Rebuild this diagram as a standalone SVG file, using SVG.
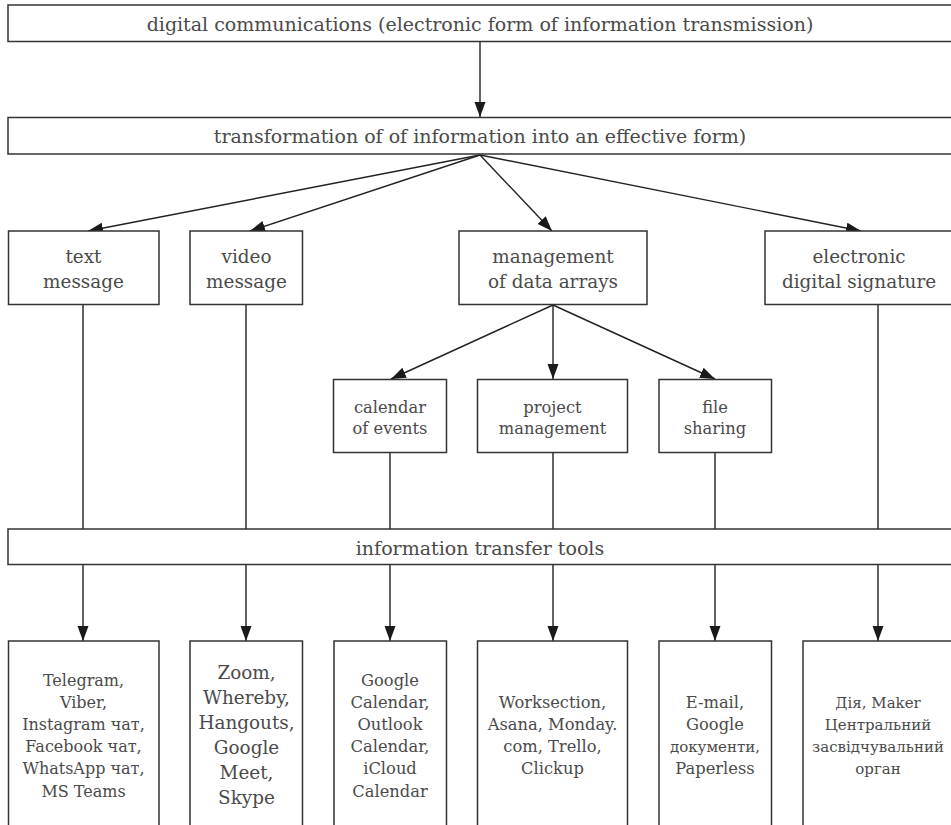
<svg xmlns="http://www.w3.org/2000/svg" width="951" height="825" viewBox="0 0 951 825">
<defs>
<marker id="ah" markerUnits="userSpaceOnUse" markerWidth="16" markerHeight="12" refX="15" refY="5.5" orient="auto">
<path d="M0,0 L15,5.5 L0,11 z" fill="#1a1a1a"/>
</marker>
<style>
.b{fill:#fff;stroke:#333;stroke-width:1.5}
.t{font-family:"DejaVu Serif","Liberation Serif",serif;fill:#4a4a4a;text-anchor:middle}
.h{font-size:19px}
.l{font-size:18.4px}
.s{font-size:16.3px}
.m{font-size:16px}
.k{font-size:15px}
.c{stroke:#222;stroke-width:1.4;fill:none}
.a{marker-end:url(#ah)}
</style>
</defs>
<rect width="951" height="825" fill="#fff"/>
<g id="connectors">
<line class="c a" x1="480" y1="42" x2="480" y2="117"/>
<line class="c a" x1="480" y1="155" x2="88" y2="231"/>
<line class="c a" x1="480" y1="155" x2="250" y2="231"/>
<line class="c a" x1="480" y1="155" x2="552" y2="231"/>
<line class="c a" x1="480" y1="155" x2="861" y2="231"/>
<line class="c a" x1="553" y1="305" x2="391" y2="379"/>
<line class="c a" x1="553" y1="305" x2="553" y2="379"/>
<line class="c a" x1="553" y1="305" x2="715" y2="379"/>
<line class="c" x1="83" y1="305" x2="83" y2="529"/>
<line class="c" x1="246" y1="305" x2="246" y2="529"/>
<line class="c" x1="390" y1="453" x2="390" y2="529"/>
<line class="c" x1="553" y1="453" x2="553" y2="529"/>
<line class="c" x1="715" y1="453" x2="715" y2="529"/>
<line class="c" x1="878" y1="305" x2="878" y2="529"/>
<line class="c a" x1="83" y1="565" x2="83" y2="641"/>
<line class="c a" x1="246" y1="565" x2="246" y2="641"/>
<line class="c a" x1="390" y1="565" x2="390" y2="641"/>
<line class="c a" x1="553" y1="565" x2="553" y2="641"/>
<line class="c a" x1="715" y1="565" x2="715" y2="641"/>
<line class="c a" x1="878" y1="565" x2="878" y2="641"/>
</g>
<g id="n-digital">
<rect class="b" x="8" y="5" width="946" height="36.5"/>
<text class="t h" x="480" y="31">digital communications (electronic form of information transmission)</text>
</g>
<g id="n-transform">
<rect class="b" x="8" y="117.5" width="946" height="36.5"/>
<text class="t h" x="480" y="143">transformation of of information into an effective form)</text>
</g>
<g id="n-text">
<rect class="b" x="8.5" y="231" width="150.5" height="73.5"/>
<text class="t l" x="83.5" y="262.5">text</text>
<text class="t l" x="83.5" y="288">message</text>
</g>
<g id="n-video">
<rect class="b" x="190" y="231" width="112.5" height="73.5"/>
<text class="t l" x="246.5" y="262.5">video</text>
<text class="t l" x="246.5" y="288">message</text>
</g>
<g id="n-mgmt">
<rect class="b" x="459" y="231" width="188" height="73.5"/>
<text class="t l" x="553" y="262.5">management</text>
<text class="t l" x="553" y="288">of data arrays</text>
</g>
<g id="n-eds">
<rect class="b" x="765" y="231" width="188" height="73.5"/>
<text class="t l" x="859" y="262.5">electronic</text>
<text class="t l" x="859" y="288">digital signature</text>
</g>
<g id="n-calendar">
<rect class="b" x="333.5" y="379.5" width="113" height="73"/>
<text class="t s" x="390" y="412.5">calendar</text>
<text class="t s" x="390" y="434">of events</text>
</g>
<g id="n-project">
<rect class="b" x="477.5" y="379.5" width="150" height="73"/>
<text class="t s" x="552.5" y="412.5">project</text>
<text class="t s" x="552.5" y="434">management</text>
</g>
<g id="n-file">
<rect class="b" x="659" y="379.5" width="112.5" height="73"/>
<text class="t s" x="715" y="412.5">file</text>
<text class="t s" x="715" y="434">sharing</text>
</g>
<g id="n-tools">
<rect class="b" x="8" y="529" width="946" height="35.5"/>
<text class="t h" x="480" y="555">information transfer tools</text>
</g>
<g id="n-b1">
<rect class="b" x="8.5" y="641" width="150.5" height="200"/>
<text class="t m" x="83.5" y="686">Telegram,</text>
<text class="t m" x="83.5" y="708">Viber,</text>
<text class="t m" x="83.5" y="730">Instagram чат,</text>
<text class="t m" x="83.5" y="752">Facebook чат,</text>
<text class="t m" x="83.5" y="774">WhatsApp чат,</text>
<text class="t m" x="83.5" y="796.5">MS Teams</text>
</g>
<g id="n-b2">
<rect class="b" x="190" y="641" width="112.5" height="200"/>
<text class="t l" x="246.5" y="678.5">Zoom,</text>
<text class="t l" x="246.5" y="703.5">Whereby,</text>
<text class="t l" x="246.5" y="728.5">Hangouts,</text>
<text class="t l" x="246.5" y="753.5">Google</text>
<text class="t l" x="246.5" y="778.5">Meet,</text>
<text class="t l" x="246.5" y="804">Skype</text>
</g>
<g id="n-b3">
<rect class="b" x="334" y="641" width="112.5" height="200"/>
<text class="t s" x="390" y="686">Google</text>
<text class="t s" x="390" y="708">Calendar,</text>
<text class="t s" x="390" y="730">Outlook</text>
<text class="t s" x="390" y="752">Calendar,</text>
<text class="t s" x="390" y="774">iCloud</text>
<text class="t s" x="390" y="796.5">Calendar</text>
</g>
<g id="n-b4">
<rect class="b" x="477.5" y="641" width="150" height="200"/>
<text class="t s" x="552.5" y="707.5">Worksection,</text>
<text class="t s" x="552.5" y="730">Asana, Monday.</text>
<text class="t s" x="552.5" y="752">com, Trello,</text>
<text class="t s" x="552.5" y="774">Clickup</text>
</g>
<g id="n-b5">
<rect class="b" x="659" y="641" width="112.5" height="200"/>
<text class="t s" x="715" y="707.5">E-mail,</text>
<text class="t s" x="715" y="730">Google</text>
<text class="t k" x="715" y="752">документи,</text>
<text class="t s" x="715" y="774">Paperless</text>
</g>
<g id="n-b6">
<rect class="b" x="803" y="641" width="151" height="200"/>
<text class="t k" x="878" y="707.5">Дія, Maker</text>
<text class="t k" x="878" y="730">Центральний</text>
<text class="t k" x="878" y="752">засвідчувальний</text>
<text class="t k" x="878" y="774">орган</text>
</g>
</svg>
